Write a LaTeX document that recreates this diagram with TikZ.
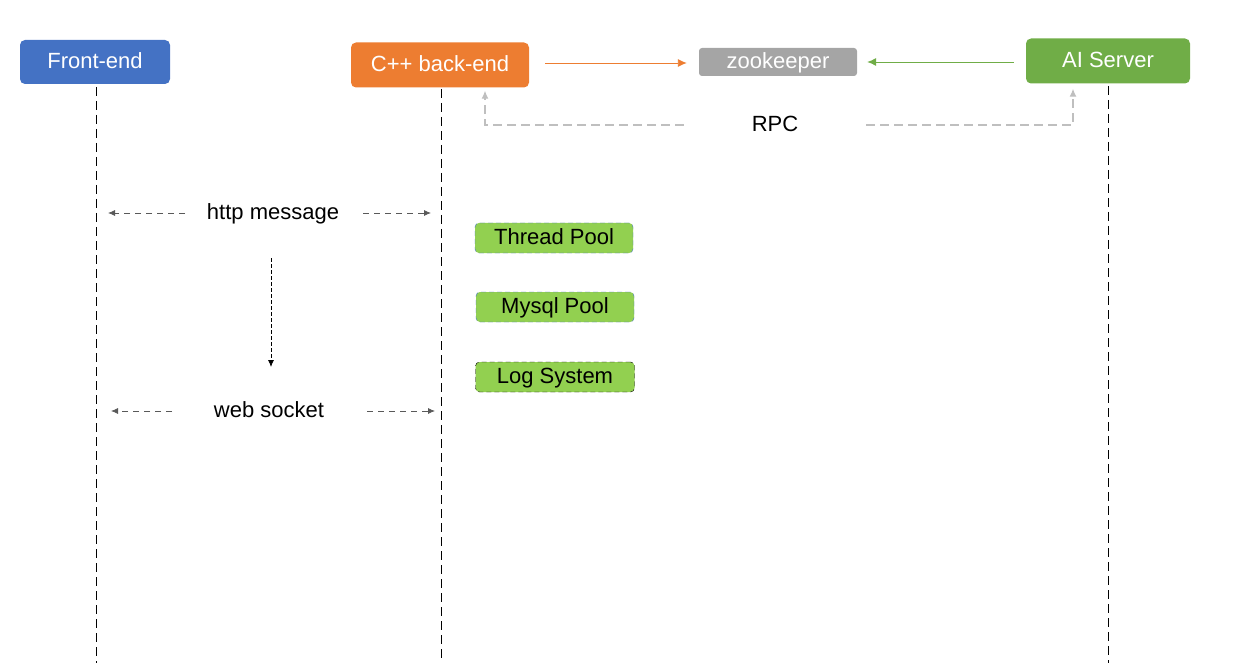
\documentclass[tikz,border=0pt]{standalone}
\usepackage{fontspec}
\setmainfont{Liberation Sans}
\usepackage{tikz}
\usetikzlibrary{arrows,arrows.meta,positioning,calc}
\definecolor{frontblue}{HTML}{4472C4}
\definecolor{backorange}{HTML}{ED7D31}
\definecolor{zkgray}{HTML}{A5A5A5}
\definecolor{aigreen}{HTML}{70AD47}
\definecolor{poolgreen}{HTML}{92D050}
\definecolor{linegray}{HTML}{BFBFBF}
\definecolor{msggray}{HTML}{595959}
\tikzstyle{actor}=[rounded corners=5pt,text=white,inner sep=0pt,text height=17pt,text depth=4pt,font=\fontsize{22}{24}\selectfont]
\tikzstyle{module}=[rounded corners=4pt,fill=poolgreen,dash pattern=on 5pt off 3pt,inner sep=0pt,text height=17pt,text depth=4pt,minimum height=30pt,font=\fontsize{22}{24}\selectfont]
\tikzstyle{lifeline}=[dash pattern=on 9pt off 5pt,line width=0.8pt]
\tikzstyle{msg}=[msggray,dash pattern=on 6pt off 5pt,line width=0.8pt,-{Latex[length=7pt,width=6pt]}]
\tikzstyle{label}=[inner sep=0pt,text height=17pt,text depth=4pt,font=\fontsize{22}{24}\selectfont]

\begin{document}
\begin{tikzpicture}[x=1pt,y=-1pt]
  \useasboundingbox (0,0) rectangle (1234,663);
  % actors
  \node [actor,fill=frontblue,minimum width=150pt,minimum height=44pt] (front) at (95,62) {Front-end};
  \node [actor,fill=backorange,minimum width=178pt,minimum height=45pt] (back) at (440,65) {C++ back-end};
  \node [actor,fill=zkgray,rounded corners=3pt,minimum width=158pt,minimum height=28pt] (zk) at (778,62) {zookeeper};
  \node [actor,fill=aigreen,minimum width=164pt,minimum height=45pt] (ai) at (1108,61) {AI Server};
  % lifelines
  \coordinate (frontend) at (96,663);
  \coordinate (backend) at (441,663);
  \coordinate (aiend) at (1108,663);
  \draw [lifeline] (96,87) -- (frontend);
  \draw [lifeline] (441,89) -- (backend);
  \draw [lifeline] (1108,86) -- (aiend);
  % registration
  \draw [backorange,line width=0.9pt,-{Latex[length=9pt,width=8pt]}] ($(back.east)+(16,-2)$) -- ($(zk.west)+(-12,1)$);
  \draw [aigreen,line width=0.9pt,-{Latex[length=9pt,width=8pt]}] ($(ai.west)+(-12,1)$) -- ($(zk.east)+(10,0)$);
  % rpc
  \node [label] (rpc) at (775,125) {RPC};
  \draw [linegray,dash pattern=on 9pt off 5pt,line width=1.2pt,-{Latex[length=8pt,width=7pt]}] ($(rpc.west)+(-68,0)$) -| ($(back.south)+(45,3)$);
  \draw [linegray,dash pattern=on 9pt off 5pt,line width=1.2pt,-{Latex[length=8pt,width=7pt]}] ($(rpc.east)+(68,0)$) -| ($(ai.south)+(-35,5)$);
  % messages
  \node [label] (http) at (273,213) {http message};
  \draw [msg] (185,213) -- (108,213);
  \draw [msg] (363,213) -- (431,213);
  \node [label] (ws) at (269,411) {web socket};
  \draw [msg] (172,411) -- (111,411);
  \draw [msg] (367,411) -- (435,411);
  \draw [black,dash pattern=on 4pt off 2pt,line width=0.8pt,-{Latex[length=7pt,width=6pt]}] (271,258) -- (271,367);
  % modules
  \node [module,draw=frontblue,minimum width=158pt] (thread) at (554,238) {Thread Pool};
  \node [module,draw=frontblue,minimum width=158pt] (mysql) at (555,307) {Mysql Pool};
  \node [module,draw=black,minimum width=159pt] (log) at (555,377) {Log System};
\end{tikzpicture}
\end{document}
